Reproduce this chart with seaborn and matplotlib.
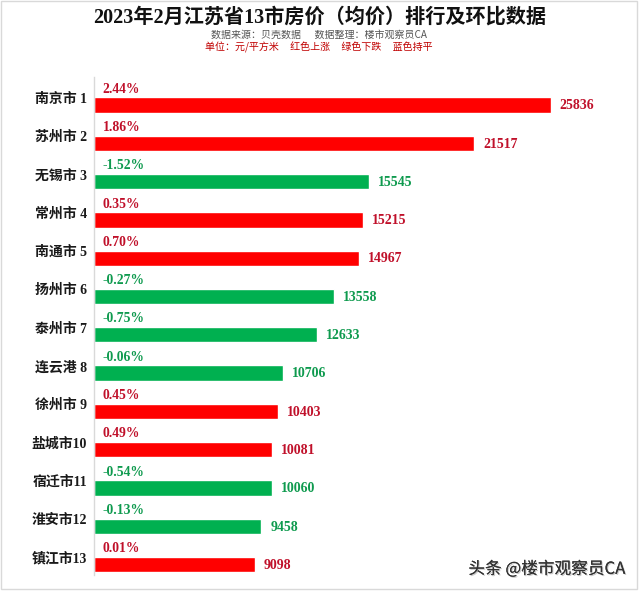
import numpy as np
import pandas as pd
import matplotlib
matplotlib.use("Agg")
import matplotlib.pyplot as plt
import seaborn as sns
from matplotlib.patches import Rectangle
import matplotlib.patheffects as pe

cities = ["南京市 1", "苏州市 2", "无锡市 3", "常州市 4", "南通市 5", "扬州市 6", "泰州市 7",
          "连云港 8", "徐州市 9", "盐城市10", "宿迁市11", "淮安市12", "镇江市13"]
prices = [25836, 21517, 15545, 15215, 14967, 13558, 12633, 10706, 10403, 10081, 10060, 9458, 9098]
changes = [2.44, 1.86, -1.52, 0.35, 0.70, -0.27, -0.75, -0.06, 0.45, 0.49, -0.54, -0.13, 0.01]

title = "2023年2月江苏省13市房价（均价）排行及环比数据"
sub1 = "数据来源：贝壳数据      数据整理：楼市观察员CA"
sub2 = "单位：元/平方米     红色上涨     绿色下跌     蓝色持平"
watermark = "头条 @楼市观察员CA"

sns.set_theme(style="white")
plt.rcParams['font.family'] = ['Liberation Serif', 'Noto Sans CJK SC', 'DejaVu Sans']

def trend(c):
    return "up" if c > 0 else ("down" if c < 0 else "flat")

df = pd.DataFrame({"city": cities, "price": prices, "change": changes,
                   "trend": [trend(c) for c in changes]})

bar_pal = {"up": "#FF0000", "down": "#00B050", "flat": "#0070C0"}
txt_pal = {"up": "#C0102A", "down": "#0E9A4E", "flat": "#0070C0"}

fig = plt.figure(figsize=(6.4, 5.91), dpi=100)
fig.patch.set_facecolor("white")
ax = fig.add_axes([94/640, 16/591, 536/640, 498/591])

sns.barplot(data=df, x="price", y="city", hue="trend", palette=bar_pal, dodge=False,
            width=0.40, orient="h", legend=False, ax=ax, saturation=1)

px_per_unit = (550.7 - 94) / 25836
ax.set_xlim(0, 536 / px_per_unit)
ax.set_ylim(12.27, -0.731)

n = len(cities)
ax.set_yticks(np.arange(n) - 0.19)
ax.set_yticklabels(cities, fontsize=10, fontweight="bold", color="#1a1a1a")
ax.tick_params(axis="y", length=0, pad=5)
ax.set_xticks([])
ax.set_xlabel("")
ax.set_ylabel("")
for s in ["top", "right", "bottom"]:
    ax.spines[s].set_visible(False)
ax.spines["left"].set_color("#d9d9d9")
ax.spines["left"].set_linewidth(1)

for i, (p, c) in enumerate(zip(prices, changes)):
    col = txt_pal[trend(c)]
    ax.text(8.7 / px_per_unit, i - 0.415, f"{c:.2f}%", color=col, fontsize=9.8,
            fontweight="bold", ha="left", va="center")
    ax.text(p + 9 / px_per_unit, i + 0.02, f"{p}", color=col, fontsize=10,
            fontweight="bold", ha="left", va="center")

fig.text(0.5, 1 - 18/591, title, ha="center", va="center", fontsize=14.5,
         fontweight="bold", color="#111111")
fig.text(319/640, 1 - 35/591, sub1, ha="center", va="center", fontsize=7.2,
         color="#555555", family=['Noto Sans CJK SC', 'DejaVu Sans'])
fig.text(319/640, 1 - 47/591, sub2, ha="center", va="center", fontsize=7.2,
         color="#C00000", family=['Noto Sans CJK SC', 'DejaVu Sans'])
fig.text(625/640, 1 - 569/591, watermark, ha="right", va="center", fontsize=12,
         color="#333333", family=['Noto Sans CJK SC', 'DejaVu Sans'],
         path_effects=[pe.withSimplePatchShadow(offset=(0.8, -0.8), shadow_rgbFace="#bbbbbb", alpha=0.8), pe.Normal()])

fig.patches.append(Rectangle((1/640, 2/591), 636/640, 588/591, transform=fig.transFigure,
                             fill=False, edgecolor="#d9d9d9", linewidth=1))

fig.savefig("out.png", dpi=100, facecolor="white")
